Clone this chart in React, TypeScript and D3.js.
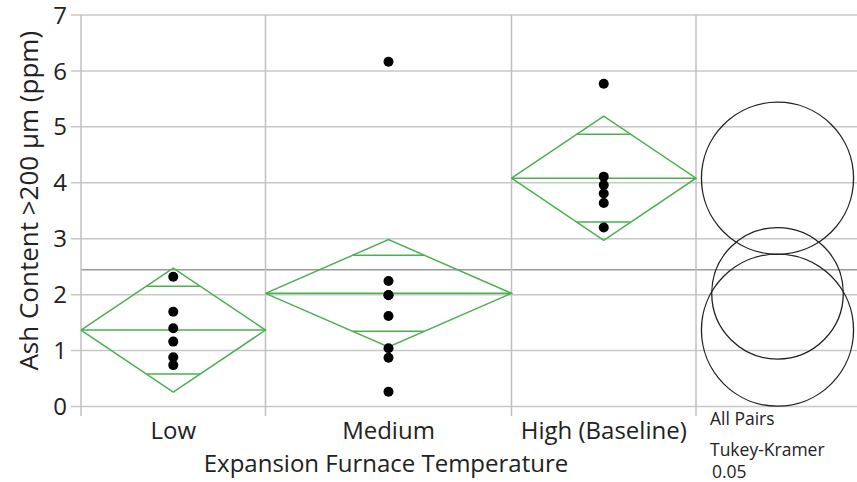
import React from "react";
import * as d3 from "d3";

const categories = ["Low", "Medium", "High (Baseline)"];
const lowValues = [2.32, 1.695, 1.4, 1.16, 0.88, 0.74];
const mediumValues = [6.165, 2.244, 1.994, 1.99, 1.618, 1.04, 0.873, 0.265];
const highValues = [5.77, 4.11, 3.96, 3.81, 3.64, 3.2];
const ciHalfWidths = [1.11, 0.96, 1.11];
const circleRadii = [1.36, 1.176, 1.36];
const yTicks = [0, 1, 2, 3, 4, 5, 6, 7];
const testLabels = ["All Pairs", "Tukey-Kramer", "0.05"];

const W = 857;
const H = 482;
const FONT = "'Open Sans', 'Noto Sans', sans-serif";
const GREEN = "#4cb050";

export default function App() {
  const groups = [lowValues, mediumValues, highValues];
  const counts = groups.map((g) => g.length);
  const cum = [0];
  counts.forEach((c) => cum.push(cum[cum.length - 1] + c));
  const total = cum[cum.length - 1];

  const x = d3.scaleLinear().domain([0, total]).range([81, 696]);
  const y = d3.scaleLinear().domain([0, 7]).range([406.5, 15]);
  const panelRight = W;
  const circleCx = 777.5;
  const allValues = groups.flat();
  const grandMean = d3.mean(allValues) as number;

  const plotTop = y(7);
  const plotBottom = y(0);

  return (
    <svg
      width={W}
      height={H}
      style={{ position: "absolute", left: 0, top: 0, background: "#fff" }}
      fontFamily={FONT}
    >
      {yTicks.map((t) => (
        <line
          key={"g" + t}
          x1={71}
          x2={panelRight}
          y1={y(t)}
          y2={y(t)}
          stroke="#c8c8c8"
          strokeWidth={1.5}
        />
      ))}
      <line
        x1={x(0)}
        x2={panelRight}
        y1={y(grandMean)}
        y2={y(grandMean)}
        stroke="#9a9a9a"
        strokeWidth={1.5}
      />
      {cum.map((c, i) => (
        <line
          key={"v" + i}
          x1={x(c)}
          x2={x(c)}
          y1={plotTop}
          y2={416}
          stroke="#c0c0c0"
          strokeWidth={1.5}
        />
      ))}
      {yTicks.map((t) => (
        <text
          key={"yt" + t}
          x={67}
          y={y(t)}
          dy="0.36em"
          textAnchor="end"
          fontSize={24}
          fill="#222"
        >
          {t}
        </text>
      ))}
      <text
        transform={`translate(38,${(plotTop + plotBottom) / 2 - 10}) rotate(-90)`}
        textAnchor="middle"
        fontSize={26}
        fill="#222"
      >
        Ash Content &gt;200 µm (ppm)
      </text>
      {groups.map((g, i) => {
        const m = d3.mean(g) as number;
        const hw = ciHalfWidths[i];
        const x0 = x(cum[i]);
        const x1 = x(cum[i + 1]);
        const cx = (x0 + x1) / 2;
        const half = (x1 - x0) / 2;
        const ov = hw / Math.SQRT2;
        const frac = 1 - ov / hw;
        const diamond = d3.line()([
          [x0, y(m)],
          [cx, y(m + hw)],
          [x1, y(m)],
          [cx, y(m - hw)],
          [x0, y(m)],
        ]) as string;
        return (
          <g key={"d" + i} stroke={GREEN} strokeWidth={1.5} fill="none">
            <path d={diamond} />
            <line x1={x0} x2={x1} y1={y(m)} y2={y(m)} />
            <line x1={cx - half * frac} x2={cx + half * frac} y1={y(m + ov)} y2={y(m + ov)} />
            <line x1={cx - half * frac} x2={cx + half * frac} y1={y(m - ov)} y2={y(m - ov)} />
          </g>
        );
      })}
      {groups.map((g, i) => {
        const cx = (x(cum[i]) + x(cum[i + 1])) / 2;
        return g.map((v, j) => (
          <circle key={`p${i}-${j}`} cx={cx} cy={y(v)} r={5} fill="#000" />
        ));
      })}
      {groups.map((g, i) => {
        const m = d3.mean(g) as number;
        const r = y(0) - y(circleRadii[i]);
        return (
          <circle
            key={"c" + i}
            cx={circleCx}
            cy={y(m)}
            r={r}
            fill="none"
            stroke="#222"
            strokeWidth={1.3}
          />
        );
      })}
      {categories.map((c, i) => (
        <text
          key={"xt" + c}
          x={(x(cum[i]) + x(cum[i + 1])) / 2}
          y={439}
          textAnchor="middle"
          fontSize={24}
          fill="#222"
        >
          {c}
        </text>
      ))}
      <text x={386} y={472} textAnchor="middle" fontSize={24} fill="#222">
        Expansion Furnace Temperature
      </text>
      {testLabels.map((t, i) => (
        <text
          key={"tl" + i}
          x={i === 2 ? 712 : 710}
          y={[425, 456, 478][i]}
          fontSize={17.5}
          fill="#222"
        >
          {t}
        </text>
      ))}
    </svg>
  );
}
